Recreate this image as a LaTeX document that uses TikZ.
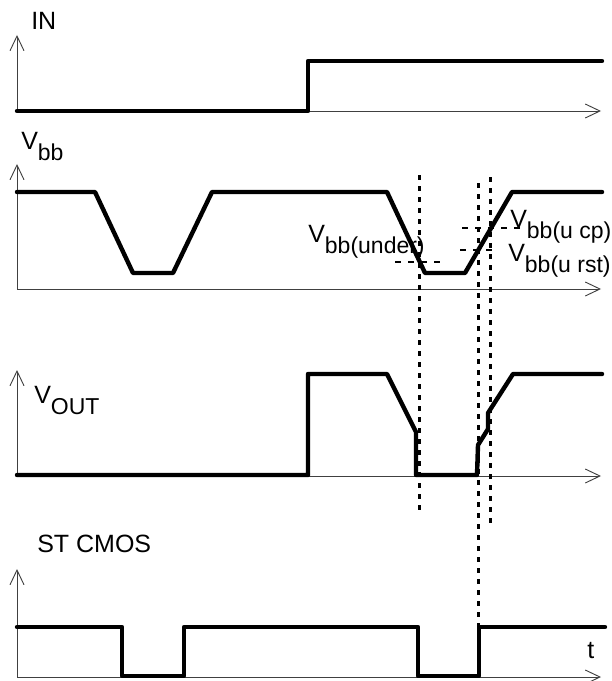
\documentclass[tikz,border=0pt]{standalone}
\usepackage{fontspec}
\setmainfont{Liberation Sans}
\usetikzlibrary{arrows.meta}

\newcommand{\vsub}[2]{#1\raisebox{-8.25pt}{\fontsize{17.25}{20}\selectfont #2}}

\begin{document}
\begin{tikzpicture}[x=0.75pt, y=-0.75pt, >={Straight Barb[length=11pt,width=10.5pt]},
  axis/.style={<->, line width=0.7pt, black!75},
  signal/.style={line width=3.3pt, line join=round, line cap=round},
  marker/.style={line width=2.25pt, dash pattern=on 3.75pt off 4.5pt},
  levelmark/.style={line width=1.8pt, dash pattern=on 4.5pt off 5.25pt},
  sigtext/.style={anchor=base west, inner sep=0pt, font=\fontsize{18.75}{22}\selectfont}]

\useasboundingbox (0,0) rectangle (611,681);

% axes
\foreach \base/\top in {111/35, 289/164, 476/370, 677/569}
{
	\draw[axis] (17,\top) -- (17,\base) -- (601,\base);
}

% signals
\draw[signal] (17,111) -- (308,111) -- (308,61) -- (602,61);
\draw[signal] (17,192) -- (95,192) -- (133,273) -- (173,273) -- (212,192)
  -- (387,192) -- (425,273) -- (465,273) -- (512,192) -- (602,192);
\draw[signal] (17,475) -- (308,475) -- (308,374) -- (387,374) -- (416,432)
  -- (416,475) -- (477,475) -- (478,445) -- (488,429) -- (488,413)
  -- (513,374) -- (602,374);
\draw[signal] (17,627) -- (122,627) -- (122,676) -- (184,676) -- (184,627)
  -- (418,627) -- (418,676) -- (479,676) -- (479,627) -- (605,627);

% thresholds
\draw[marker] (419,175) -- (419,515);
\draw[marker] (478,183) -- (478,627);
\draw[marker] (490,177) -- (490,527);
\draw[levelmark] (395,262) -- (445,262);
\draw[levelmark] (460,250) -- (495,250);
\draw[levelmark] (462,228) -- (527,228);

% labels
\node[sigtext] (in) at (31,30) {IN};
\node[sigtext] (vbb) at (21,150) {\vsub{V}{bb}};
\node[sigtext] (vout) at (34,403) {\vsub{V}{OUT}};
\node[sigtext] (stcmos) at (37,552) {ST CMOS};
\node[sigtext] (t) at (587,658) {t};
\node[sigtext] (under) at (308,242) {\vsub{V}{bb(under)}};
\node[sigtext] (ucp) at (510,227) {\vsub{V}{bb(u cp)}};
\node[sigtext] (urst) at (508,261) {\vsub{V}{bb(u rst)}};

\end{tikzpicture}
\end{document}
